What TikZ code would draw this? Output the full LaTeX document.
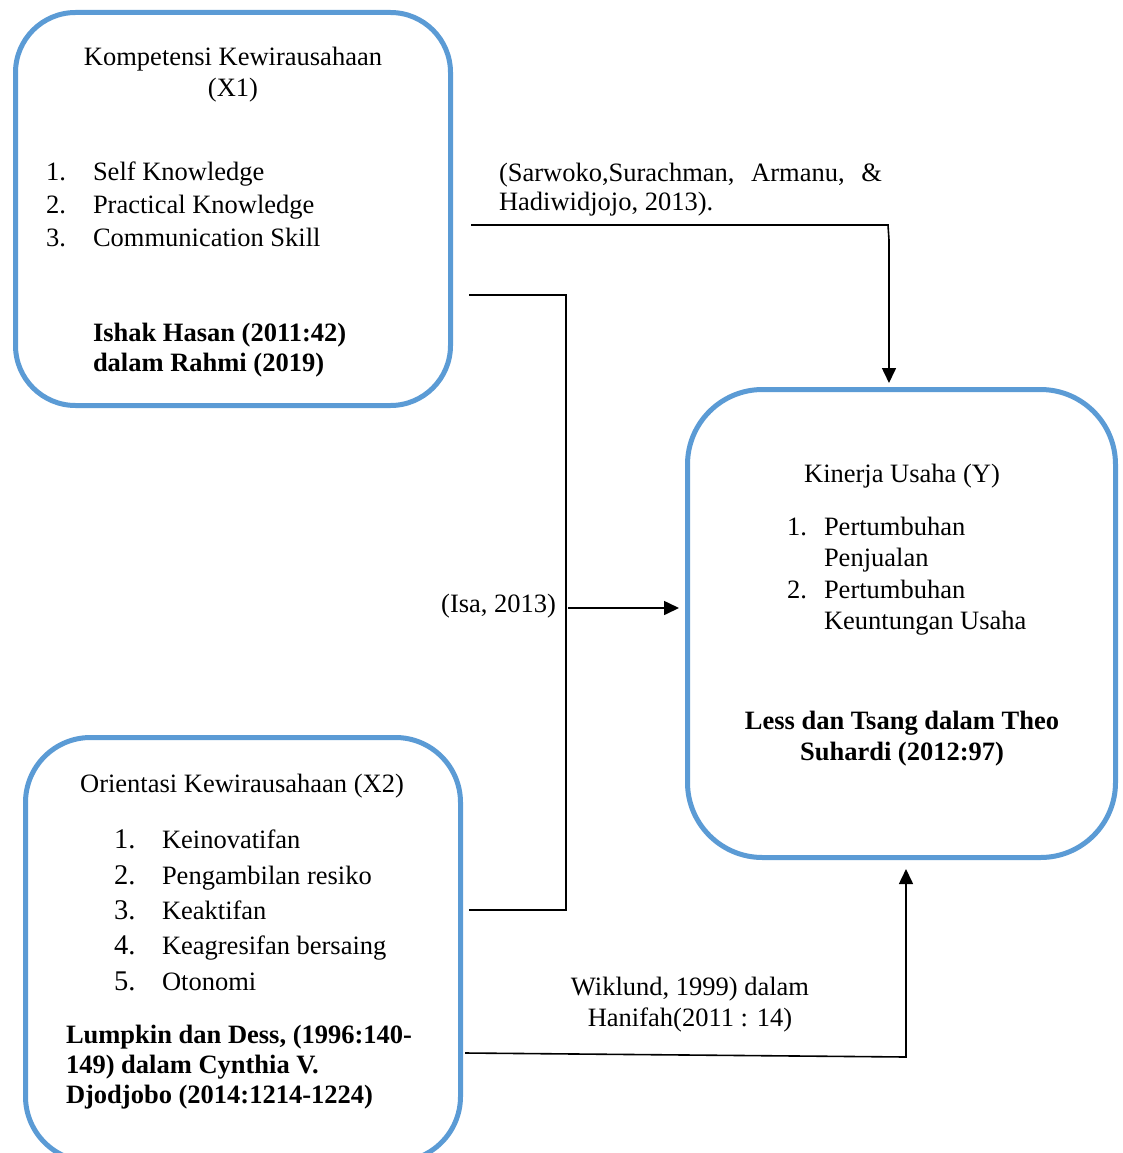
\documentclass[tikz,border=0pt]{standalone}
\usepackage{fontspec}
\setmainfont{Liberation Serif}
\usetikzlibrary{arrows.meta}
\definecolor{boxblue}{HTML}{5B9BD5}
\tikzset{
  varbox/.style={draw=boxblue, line width=5pt, rounded corners=#1, inner sep=0pt, fill=none},
  txt/.style={inner sep=0pt, outer sep=0pt, font=\fontsize{26.5}{31}\selectfont},
  btxt/.style={txt, font=\fontsize{26.5}{31}\selectfont\bfseries},
  conn/.style={draw=black, line width=1.6pt},
  arr/.style={conn, -{Triangle[length=15pt,width=14pt]}}
}
\begin{document}
\begin{tikzpicture}[x=1pt,y=-1pt]
\useasboundingbox (0,0) rectangle (1123,1153);
\clip (0,0) rectangle (1123,1153);
\fill[white] (0,0) rectangle (1123,1153);
% boxes
\node[varbox=60pt, minimum width=435pt, minimum height=393pt] (x1) at (233,209) {};
\node[varbox=75pt, minimum width=428pt, minimum height=468pt] (y) at (901.5,623.5) {};
\node[varbox=65pt, minimum width=435pt, minimum height=424pt] (x2) at (243,949.5) {};
% X1 texts
\node[txt, anchor=base] (x1t1) at (233,66) {Kompetensi Kewirausahaan};
\node[txt, anchor=base] (x1t2) at (233,97) {(X1)};
\node[txt, anchor=base west] (x1n1) at (46,180) {1.};
\node[txt, anchor=base west] (x1i1) at (93,180) {Self Knowledge};
\node[txt, anchor=base west] (x1n2) at (46,213) {2.};
\node[txt, anchor=base west] (x1i2) at (93,213) {Practical Knowledge};
\node[txt, anchor=base west] (x1n3) at (46,246) {3.};
\node[txt, anchor=base west] (x1i3) at (93,246) {Communication Skill};
\node[btxt, anchor=base west] (x1r1) at (93,341) {Ishak Hasan (2011:42)};
\node[btxt, anchor=base west] (x1r2) at (93,371) {dalam Rahmi (2019)};
% Y texts
\node[txt, anchor=base] (yt) at (902,482) {Kinerja Usaha (Y)};
\node[txt, anchor=base west] (yn1) at (787,535) {1.};
\node[txt, anchor=base west] (yi1a) at (824,535) {Pertumbuhan};
\node[txt, anchor=base west] (yi1b) at (824,566) {Penjualan};
\node[txt, anchor=base west] (yn2) at (787,598) {2.};
\node[txt, anchor=base west] (yi2a) at (824,598) {Pertumbuhan};
\node[txt, anchor=base west] (yi2b) at (824,629) {Keuntungan Usaha};
\node[btxt, anchor=base] (yr1) at (902,729) {Less dan Tsang dalam Theo};
\node[btxt, anchor=base] (yr2) at (902,760) {Suhardi (2012:97)};
% X2 texts
\node[txt, anchor=base] (x2t) at (242,792) {Orientasi Kewirausahaan (X2)};
\node[txt, anchor=base west, font=\fontsize{28.5}{31}\selectfont] (x2n1) at (114,848) {1.};
\node[txt, anchor=base west] (x2i1) at (162,848) {Keinovatifan};
\node[txt, anchor=base west, font=\fontsize{28.5}{31}\selectfont] (x2n2) at (114,884) {2.};
\node[txt, anchor=base west] (x2i2) at (162,884) {Pengambilan resiko};
\node[txt, anchor=base west, font=\fontsize{28.5}{31}\selectfont] (x2n3) at (114,919) {3.};
\node[txt, anchor=base west] (x2i3) at (162,919) {Keaktifan};
\node[txt, anchor=base west, font=\fontsize{28.5}{31}\selectfont] (x2n4) at (114,954) {4.};
\node[txt, anchor=base west] (x2i4) at (162,954) {Keagresifan bersaing};
\node[txt, anchor=base west, font=\fontsize{28.5}{31}\selectfont] (x2n5) at (114,990) {5.};
\node[txt, anchor=base west] (x2i5) at (162,990) {Otonomi};
\node[btxt, anchor=base west] (x2r1) at (66,1043) {Lumpkin dan Dess, (1996:140-};
\node[btxt, anchor=base west] (x2r2) at (66,1073) {149) dalam Cynthia V.};
\node[btxt, anchor=base west] (x2r3) at (66,1103) {Djodjobo (2014:1214-1224)};
% connector labels
\node[txt, anchor=base west] (l1a) at (499,181) {\hbox to 383pt{(Sarwoko,Surachman,\hfill Armanu,\hfill \&}};
\node[txt, anchor=base west] (l1b) at (499,210) {Hadiwidjojo, 2013).};
\node[txt, anchor=base east] (l2) at (556,612) {(Isa, 2013)};
\node[txt, anchor=base] (l3a) at (690,995) {Wiklund, 1999) dalam};
\node[txt, anchor=base] (l3b) at (690,1026) {Hanifah(2011 : 14)};
% connector coordinates
\coordinate (s1) at (471,225);
\coordinate (k1) at (888,225);
\coordinate (t1) at (889,383);
\coordinate (s2a) at (469,295);
\coordinate (k2a) at (566,295);
\coordinate (k2b) at (566,910);
\coordinate (s2b) at (469,910);
\coordinate (s3) at (568,608);
\coordinate (t3) at (679,608);
\coordinate (s4) at (465,1053);
\coordinate (k4) at (906,1057);
\coordinate (t4) at (906,869);
% connectors
\draw[conn] (s1) -- (k1) -- (889,240);
\draw[arr] (889,239) -- (t1);
\draw[conn] (s2a) -- (k2a) -- (k2b) -- (s2b);
\draw[arr] (s3) -- (t3);
\draw[conn] (s4) -- (k4) -- (906,1040);
\draw[arr] (906,1041) -- (t4);
\end{tikzpicture}
\end{document}
